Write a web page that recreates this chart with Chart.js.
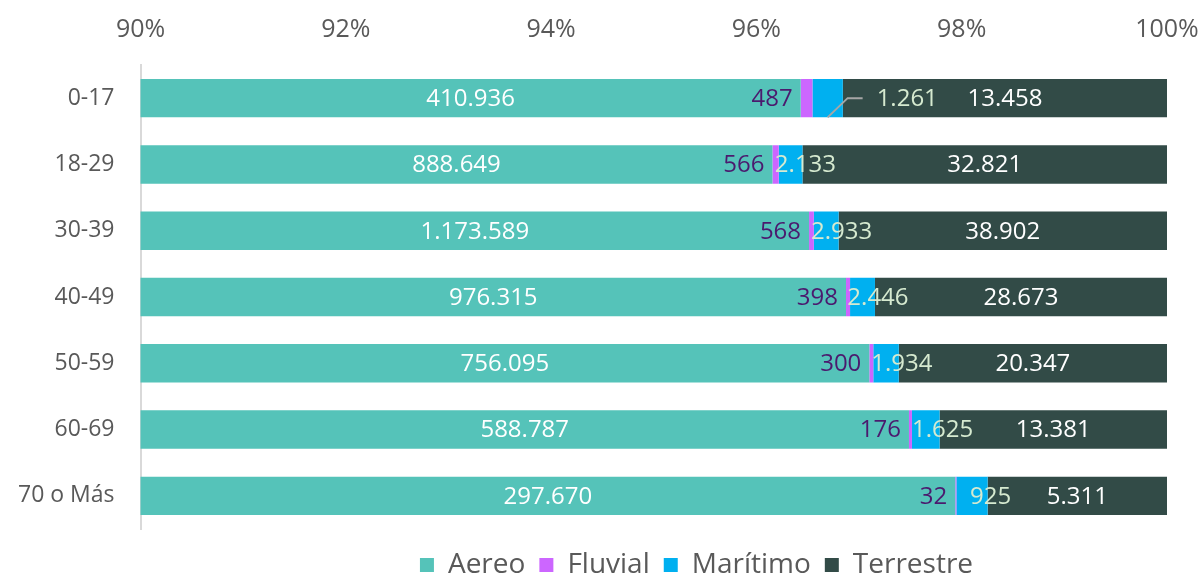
<!DOCTYPE html>
<html>
<head>
<meta charset="utf-8">
<script src="https://cdn.jsdelivr.net/npm/chart.js@4"></script>
<style>
  html, body { margin: 0; padding: 0; background: #fff; }
  #wrap { width: 1204px; height: 575px; position: relative; }
</style>
</head>
<body>
<div id="wrap"><canvas id="chart"></canvas></div>
<script>
// Data
const categories = ['0-17', '18-29', '30-39', '40-49', '50-59', '60-69', '70 o Más'];
const aereo     = [410936, 888649, 1173589, 976315, 756095, 588787, 297670];
const fluvial   = [487, 566, 568, 398, 300, 176, 32];
const maritimo  = [1261, 2133, 2933, 2446, 1934, 1625, 925];
const terrestre = [13458, 32821, 38902, 28673, 20347, 13381, 5311];
const seriesNames = ['Aereo', 'Fluvial', 'Marítimo', 'Terrestre'];
const xTicks = [90, 92, 94, 96, 98, 100];

const colors = {
    aereo: '#55c3b9',
    fluvial: '#cc66ff',
    maritimo: '#00b0f0',
    terrestre: '#324b47'
};
const labelColors = ['#ffffff', '#4b1a6e', '#d6ead0', '#ffffff'];
const FONT = '"Open Sans", "Noto Sans", sans-serif';

const raw = [aereo, fluvial, maritimo, terrestre];
const totals = categories.map((c, i) => raw.reduce((s, arr) => s + arr[i], 0));
const share = arr => arr.map((v, i) => v / totals[i] * 100);

function fmt(v) {
    return v.toString().replace(/\B(?=(\d{3})+(?!\d))/g, '.');
}

// Draws the value labels the way the original places them
const valueLabels = {
    id: 'valueLabels',
    afterDatasetsDraw(chart) {
        const ctx = chart.ctx;
        const xs = chart.scales.x;
        const area = chart.chartArea;
        ctx.save();
        ctx.font = '24px ' + FONT;
        ctx.textBaseline = 'middle';
        categories.forEach((cat, i) => {
            const bar = chart.getDatasetMeta(0).data[i];
            const y = bar.y;
            let cum = 0;
            const edges = raw.map(arr => {
                const start = cum;
                cum += arr[i] / totals[i] * 100;
                return [Math.max(xs.getPixelForValue(start), area.left), xs.getPixelForValue(cum)];
            });
            // Aereo: centered in visible part
            ctx.fillStyle = labelColors[0];
            ctx.textAlign = 'center';
            ctx.fillText(fmt(aereo[i]), (edges[0][0] + edges[0][1]) / 2, y + 1);
            // Fluvial: just left of its bar
            ctx.fillStyle = labelColors[1];
            ctx.textAlign = 'right';
            ctx.fillText(fmt(fluvial[i]), edges[1][0] - 8, y + 1);
            // Maritimo: centred on its end, first row pulled out with a leader line
            ctx.fillStyle = labelColors[2];
            ctx.textAlign = 'center';
            if (i === 0) {
                const x0 = (edges[2][0] + edges[2][1]) / 2;
                ctx.strokeStyle = '#a6a6a6';
                ctx.lineWidth = 2;
                ctx.beginPath();
                ctx.moveTo(x0, bar.y + bar.height / 2);
                ctx.lineTo(x0 + 20, y);
                ctx.lineTo(x0 + 35, y);
                ctx.stroke();
                ctx.textAlign = 'left';
                ctx.fillText(fmt(maritimo[i]), x0 + 49, y + 1);
            } else {
                ctx.fillText(fmt(maritimo[i]), edges[2][1] + 3, y + 1);
            }
            // Terrestre: centred
            ctx.fillStyle = labelColors[3];
            ctx.textAlign = 'center';
            ctx.fillText(fmt(terrestre[i]), (edges[3][0] + edges[3][1]) / 2, y + 1);
        });
        ctx.restore();
    }
};

// The original legend sits right of centre
const legendShift = {
    id: 'legendShift',
    afterLayout(chart) {
        chart.legend.left += 113;
        chart.legend.right += 113;
    }
};

const ctx = document.getElementById('chart').getContext('2d');
new Chart(ctx, {
    type: 'bar',
    data: {
        labels: categories,
        datasets: [
            { label: seriesNames[0], data: share(aereo), backgroundColor: colors.aereo },
            { label: seriesNames[1], data: share(fluvial), backgroundColor: colors.fluvial },
            { label: seriesNames[2], data: share(maritimo), backgroundColor: colors.maritimo },
            { label: seriesNames[3], data: share(terrestre), backgroundColor: colors.terrestre }
        ]
    },
    options: {
        indexAxis: 'y',
        responsive: true,
        maintainAspectRatio: false,
        animation: false,
        datasets: {
            bar: { barPercentage: 0.58, categoryPercentage: 1.0, borderWidth: 0 }
        },
        layout: { padding: { left: 0, right: 37, top: 3, bottom: -14 } },
        plugins: {
            legend: {
                position: 'bottom',
                // empty title only used as a spacer above the items
                title: { display: true, text: '', font: { size: 5 }, padding: { top: 2, bottom: 0 } },
                labels: {
                    boxWidth: 14,
                    boxHeight: 14,
                    padding: 14,
                    color: '#595959',
                    font: { family: FONT, size: 28 }
                }
            },
            tooltip: { enabled: false }
        },
        scales: {
            x: {
                position: 'top',
                stacked: true,
                min: 90,
                max: 100,
                afterBuildTicks: axis => { axis.ticks = xTicks.map(v => ({ value: v })); },
                afterFit: axis => { axis.paddingRight = 0; },
                ticks: {
                    color: '#595959',
                    font: { family: FONT, size: 25 },
                    padding: 12,
                    callback: v => v + '%'
                },
                grid: { display: false },
                border: { display: false }
            },
            y: {
                stacked: true,
                ticks: {
                    color: '#595959',
                    font: { family: FONT, size: 23 },
                    padding: 18
                },
                grid: { display: false },
                border: { color: '#d9d9d9', width: 2 }
            }
        }
    },
    plugins: [valueLabels, legendShift]
});
</script>
</body>
</html>
